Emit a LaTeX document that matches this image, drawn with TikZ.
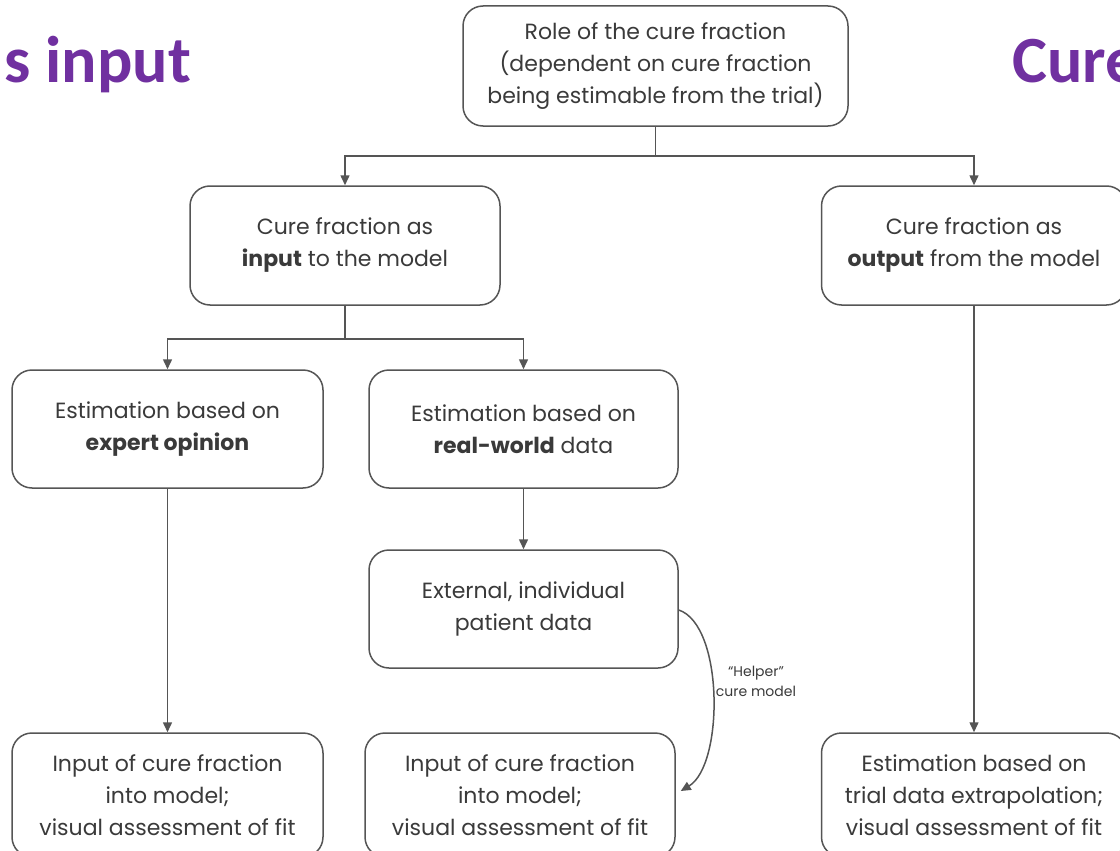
\documentclass[tikz,border=0pt]{standalone}
\usepackage{fontspec}
\setmainfont{Poppins}
\newfontfamily\titlefont{Carlito}
\usetikzlibrary{arrows.meta,calc}
\definecolor{tpurple}{HTML}{7030A0}
\definecolor{txtgray}{HTML}{3A3A3A}
\definecolor{linegray}{HTML}{555555}
\tikzset{
  box/.style={draw=linegray, line width=1.5pt, rounded corners=20pt, align=center,
    text=txtgray, font=\fontsize{22}{32}\selectfont, inner sep=0pt},
  conn/.style={draw=linegray, line width=1.5pt},
  arr/.style={conn, -{Triangle[width=9pt,length=10pt]}},
  ttl/.style={text=tpurple, font=\titlefont\bfseries\fontsize{66}{72}\selectfont, inner sep=0pt, anchor=base west}
}
\begin{document}
\begin{tikzpicture}[x=1pt,y=-1pt]
\useasboundingbox (0,0) rectangle (1120,851);
\clip (0,0) rectangle (1120,851);
\fill[white] (0,0) rectangle (1120,851);

\node[ttl] (t1) at (4,83) {s input};
\node[ttl] (t2) at (1012,83) {Cure};

\node[box, minimum width=385pt, minimum height=120pt] (top) at (655.5,66)
  {Role of the cure fraction\\(dependent on cure fraction\\being estimable from the trial)};
\node[box, minimum width=310pt, minimum height=119pt] (in) at (345,245.5)
  {Cure fraction as\\\textbf{input} to the model};
\node[box, minimum width=305pt, minimum height=119pt] (out) at (974,245.5)
  {Cure fraction as\\\textbf{output} from the model};
\node[box, minimum width=311pt, minimum height=118pt] (exp) at (167.5,429)
  {Estimation based on\\\textbf{expert opinion}};
\node[box, minimum width=309pt, minimum height=118pt] (rw) at (523.5,429)
  {Estimation based on\\\textbf{real-world} data};
\node[box, minimum width=309pt, minimum height=118pt] (ext) at (523.5,609)
  {External, individual\\patient data};
\node[box, minimum width=311pt, minimum height=124pt] (bl) at (167.5,795)
  {Input of cure fraction\\into model;\\visual assessment of fit};
\node[box, minimum width=310pt, minimum height=124pt] (bm) at (520,795)
  {Input of cure fraction\\into model;\\visual assessment of fit};
\node[box, minimum width=305pt, minimum height=124pt] (br) at (974,795)
  {Estimation based on\\trial data extrapolation;\\visual assessment of fit};

\coordinate (j1) at ($(top.south)+(0,29)$);
\draw[conn] (top.south) -- (j1);
\draw[arr] (j1) -| (in.north);
\draw[arr] (j1) -| (out.north);

\coordinate (j2) at ($(in.south)+(0,33)$);
\draw[conn] (in.south) -- (j2);
\draw[arr] (j2) -| (exp.north);
\draw[arr] (j2) -| (rw.north);

\draw[arr] (rw.south) -- (ext.north);
\draw[arr] (exp.south) -- (bl.north);
\draw[arr] (out.south) -- (br.north);

\coordinate (hs) at ($(ext.east)+(0,1)$);
\coordinate (he) at ($(bm.east)+(5,-4)$);
\draw[arr] (hs) .. controls (724,625) and (724,765) .. (he);
\node[text=txtgray, font=\fontsize{14}{20}\selectfont, align=center] (hl) at (756,681)
  {\char"201C Helper\char"201D\\cure model};
\end{tikzpicture}
\end{document}
